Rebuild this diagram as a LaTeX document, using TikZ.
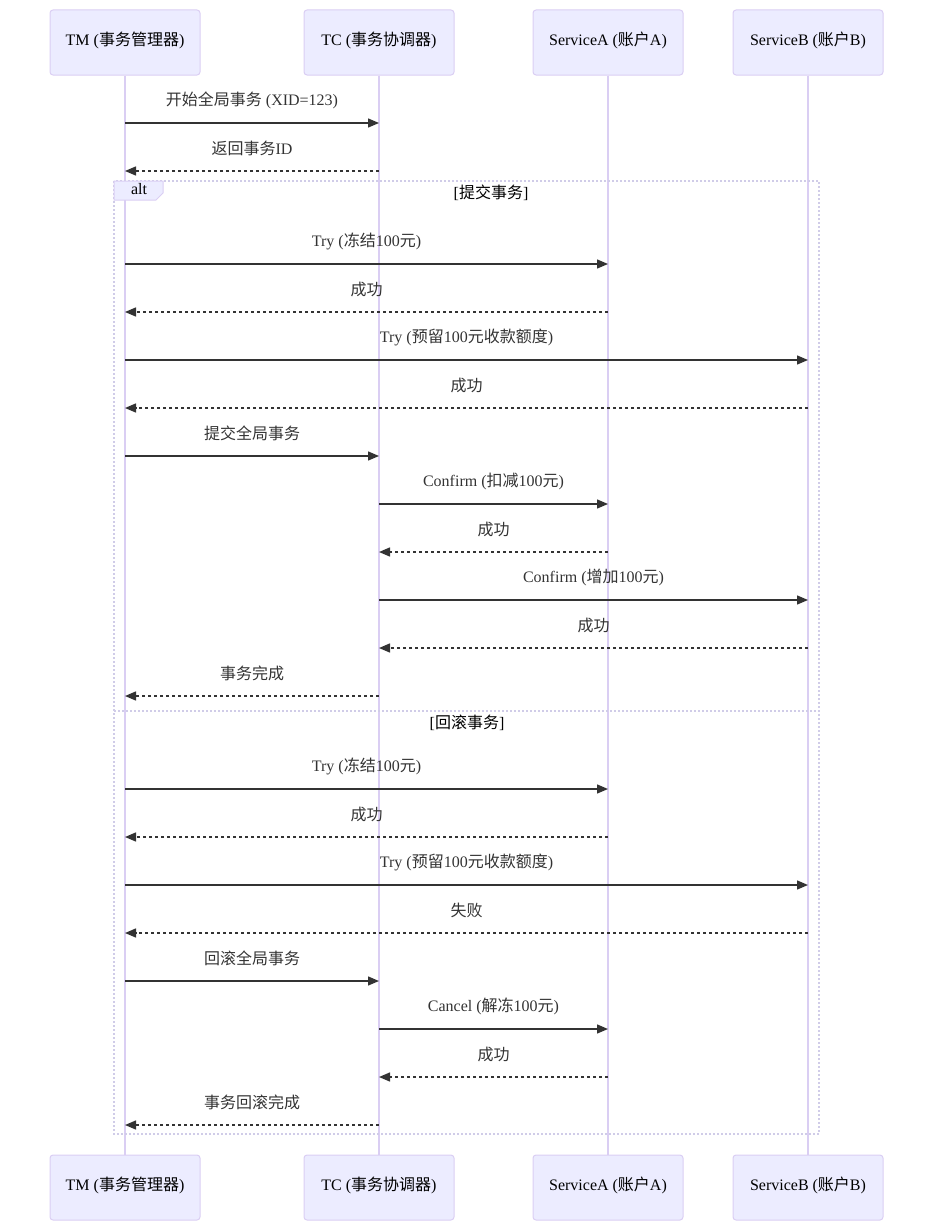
\documentclass[tikz,border=0pt]{standalone}
\usepackage{fontspec}
\setmainfont{Liberation Serif}
\newfontfamily\cjk{Noto Sans CJK SC}
\usepackage{tikz}
\usetikzlibrary{positioning,arrows.meta}
\definecolor{actorfill}{RGB}{236,236,255}
\definecolor{actorline}{RGB}{218,206,243}
\definecolor{msgline}{RGB}{51,51,51}
\definecolor{frameline}{RGB}{208,204,232}
\newcommand{\zh}[1]{{\cjk #1}}
\tikzset{
  actor/.style={rectangle,rounded corners=3pt,draw=actorline,fill=actorfill,line width=1pt,minimum width=150pt,minimum height=65pt,inner sep=0pt,text depth=8pt},
  lifeline/.style={draw=actorline,line width=1.5pt},
  msg/.style={-{Triangle[length=11pt,width=9pt]},draw=msgline,line width=1.4pt},
  reply/.style={msg,dash pattern=on 3pt off 3pt},
  lbl/.style={midway,yshift=23pt,text=msgline},
  frame/.style={draw=frameline,line width=1.3pt,dash pattern=on 2pt off 2pt},
  tab/.style={draw=actorline,fill=actorfill,line width=1pt}
}

\begin{document}
\begin{tikzpicture}[x=1pt,y=-1pt,font=\fontsize{16}{19}\selectfont]
  \useasboundingbox (0,0) rectangle (933,1231);
  % participants
  \node[actor] (tm) at (125,42.5) {TM (\zh{事务管理器})};
  \node[actor,right=103pt of tm] (tc) {TC (\zh{事务协调器})};
  \node[actor,right=78pt of tc] (sa) {ServiceA (\zh{账户}A)};
  \node[actor,right=49pt of sa] (sb) {ServiceB (\zh{账户}B)};
  \node[actor,below=1079pt of tm] (tmb) {TM (\zh{事务管理器})};
  \node[actor,below=1079pt of tc] (tcb) {TC (\zh{事务协调器})};
  \node[actor,below=1079pt of sa] (sab) {ServiceA (\zh{账户}A)};
  \node[actor,below=1079pt of sb] (sbb) {ServiceB (\zh{账户}B)};
  \draw[lifeline] (tm) -- (tmb);
  \draw[lifeline] (tc) -- (tcb);
  \draw[lifeline] (sa) -- (sab);
  \draw[lifeline] (sb) -- (sbb);

  % alt frame
  \draw[frame] (114,181) rectangle (819,1134);
  \draw[frame] (114,711) -- (819,711);
  \draw[tab] (114,181) -- (163,181) -- (163,193) -- (156,200) -- (114,200) -- cycle;
  \node (alt) at (139,189.5) {alt};
  \node (commit) at (491,193) {[\zh{提交事务}]};
  \node (rollback) at (467,723) {[\zh{回滚事务}]};

  % messages
  \draw[msg] (tm |- 0,123) -- (tc |- 0,123) node[lbl] {\zh{开始全局事务} (XID=123)};
  \draw[reply] (tc |- 0,171) -- (tm |- 0,171) node[lbl] {\zh{返回事务}ID};
  \draw[msg] (tm |- 0,264) -- (sa |- 0,264) node[lbl] {Try (\zh{冻结}100\zh{元})};
  \draw[reply] (sa |- 0,312) -- (tm |- 0,312) node[lbl] {\zh{成功}};
  \draw[msg] (tm |- 0,360) -- (sb |- 0,360) node[lbl] {Try (\zh{预留}100\zh{元收款额度})};
  \draw[reply] (sb |- 0,408) -- (tm |- 0,408) node[lbl] {\zh{成功}};
  \draw[msg] (tm |- 0,456) -- (tc |- 0,456) node[lbl] {\zh{提交全局事务}};
  \draw[msg] (tc |- 0,504) -- (sa |- 0,504) node[lbl] {Confirm (\zh{扣减}100\zh{元})};
  \draw[reply] (sa |- 0,552) -- (tc |- 0,552) node[lbl] {\zh{成功}};
  \draw[msg] (tc |- 0,600) -- (sb |- 0,600) node[lbl] {Confirm (\zh{增加}100\zh{元})};
  \draw[reply] (sb |- 0,648) -- (tc |- 0,648) node[lbl] {\zh{成功}};
  \draw[reply] (tc |- 0,696) -- (tm |- 0,696) node[lbl] {\zh{事务完成}};

  \draw[msg] (tm |- 0,789) -- (sa |- 0,789) node[lbl] {Try (\zh{冻结}100\zh{元})};
  \draw[reply] (sa |- 0,837) -- (tm |- 0,837) node[lbl] {\zh{成功}};
  \draw[msg] (tm |- 0,885) -- (sb |- 0,885) node[lbl] {Try (\zh{预留}100\zh{元收款额度})};
  \draw[reply] (sb |- 0,933) -- (tm |- 0,933) node[lbl] {\zh{失败}};
  \draw[msg] (tm |- 0,981) -- (tc |- 0,981) node[lbl] {\zh{回滚全局事务}};
  \draw[msg] (tc |- 0,1029) -- (sa |- 0,1029) node[lbl] {Cancel (\zh{解冻}100\zh{元})};
  \draw[reply] (sa |- 0,1077) -- (tc |- 0,1077) node[lbl] {\zh{成功}};
  \draw[reply] (tc |- 0,1125) -- (tm |- 0,1125) node[lbl] {\zh{事务回滚完成}};
\end{tikzpicture}
\end{document}
